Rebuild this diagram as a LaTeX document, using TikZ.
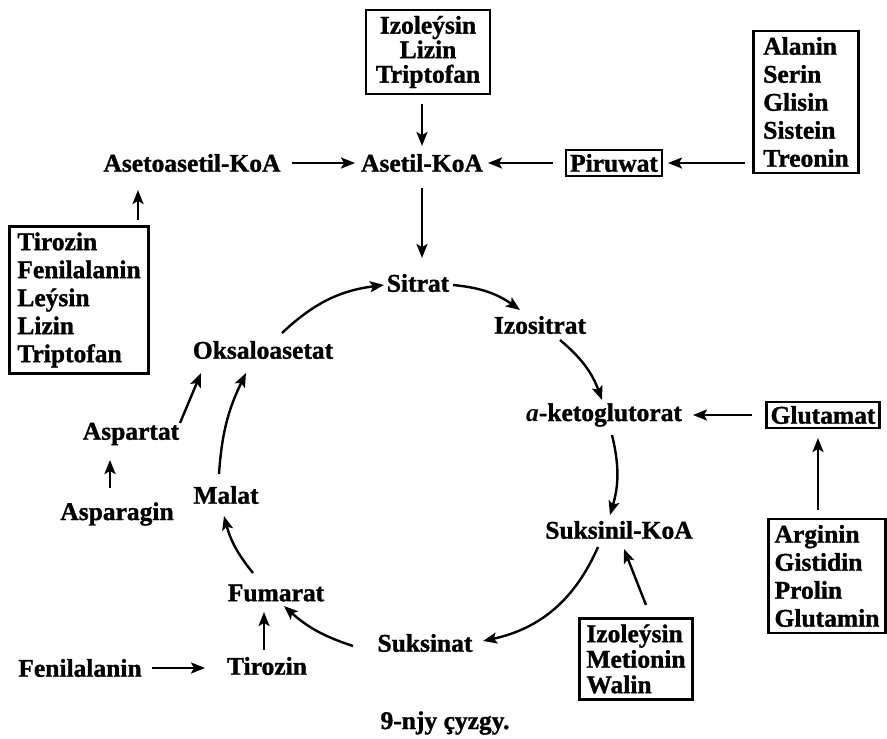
\documentclass[tikz,border=0pt]{standalone}
\usepackage{fontspec}
\setmainfont{Liberation Serif}[BoldFeatures={FakeBold=1.2}]
\usetikzlibrary{arrows.meta}
\begin{document}
\begin{tikzpicture}[x=1pt,y=-1pt,
  lbl/.style={font=\fontsize{25.5}{28}\selectfont\bfseries, inner sep=4pt},
  box/.style={lbl, draw, line width=2.6pt, inner xsep=10pt, inner ysep=6pt},
  arr/.style={line width=2.4pt, -{Stealth[length=14pt,width=11pt,inset=3pt]}}]
\useasboundingbox (0,0) rectangle (887,739);
% nodes
\node[box, align=center, font=\fontsize{25.5}{24.5}\selectfont\bfseries] (b1) at (428,52) {Izoleýsin\\Lizin\\Triptofan};
\node[lbl] (acoa) at (422,163) {Asetil-KoA};
\node[lbl] (aacoa) at (192,163) {Asetoasetil-KoA};
\node[box, inner xsep=4pt, inner ysep=4pt] (pir) at (614,163) {Piruwat};
\node[box, align=left] (ala) at (806,102) {Alanin\\Serin\\Glisin\\Sistein\\Treonin};
\node[box, align=left, inner xsep=8pt] (tir1) at (79,300) {Tirozin\\Fenilalanin\\Leýsin\\Lizin\\Triptofan};
\node[lbl] (sit) at (418,283) {Sitrat};
\node[lbl] (izo) at (540,325) {Izositrat};
\node[lbl] (akg) at (604,415) {\textit{a}-ketoglutorat};
\node[box, inner xsep=4pt, inner ysep=4pt] (glu) at (823,415) {Glutamat};
\node[box, align=left, inner xsep=6pt] (arg) at (827,576) {Arginin\\Gistidin\\Prolin\\Glutamin};
\node[lbl] (sco) at (619,530) {Suksinil-KoA};
\node[box, align=left, inner xsep=7pt, font=\fontsize{25.5}{25.5}\selectfont\bfseries] (b2) at (636,659) {Izoleýsin\\Metionin\\Walin};
\node[lbl] (suk) at (425,643) {Suksinat};
\node[lbl] (fum) at (276,593) {Fumarat};
\node[lbl] (tir) at (267,666) {Tirozin};
\node[lbl] (fen) at (80,668) {Fenilalanin};
\node[lbl] (mal) at (226,495) {Malat};
\node[lbl] (oks) at (263,350) {Oksaloasetat};
\node[lbl] (asp) at (131,434) {Aspartat};
\node[lbl] (asg) at (117,514) {Asparagin};
\node[lbl] (cap) at (445,723) {9-njy çyzgy.};
% cycle
\draw[arr] ([shift={(19,-17)}]oks.center) to[bend left=18] ([shift={(-34,2)}]sit.center);
\draw[arr] ([shift={(35,2)}]sit.center) to[bend left=15] ([shift={(-20,-15)}]izo.center);
\draw[arr] ([shift={(20,15)}]izo.center) to[bend left=15] ([shift={(-2,-15)}]akg.center);
\draw[arr] ([shift={(8,20)}]akg.center) to[bend left=15] ([shift={(-9,-15)}]sco.center);
\draw[arr] ([shift={(-21,17)}]sco.center) to[bend left=27] ([shift={(58,-2)}]suk.center);
\draw[arr] ([shift={(-72,3)}]suk.center) to[bend left=12] ([shift={(8,13)}]fum.center);
\draw[arr] ([shift={(-23,-20)}]fum.center) to[bend left=12] ([shift={(-2,21)}]mal.center);
\draw[arr] ([shift={(-7,-21)}]mal.center) to[bend left=11] ([shift={(-17,23)}]oks.center);
% straight
\draw[arr] ([shift={(-6,52)}]b1.center) -- ([shift={(0,-17)}]acoa.center);
\draw[arr] ([shift={(100,0)}]aacoa.center) -- ([shift={(-67,0)}]acoa.center);
\draw[arr] ([shift={(-61,0)}]pir.center) -- ([shift={(66,0)}]acoa.center);
\draw[arr] ([shift={(-61,61)}]ala.center) -- ([shift={(54,0)}]pir.center);
\draw[arr] ([shift={(59,-80)}]tir1.center) -- ([shift={(-54,27)}]aacoa.center);
\draw[arr] ([shift={(0,25)}]acoa.center) -- ([shift={(4,-25)}]sit.center);
\draw[arr] ([shift={(-71,0)}]glu.center) -- ([shift={(89,0)}]akg.center);
\draw[arr] ([shift={(-9,-66)}]arg.center) -- ([shift={(-5,23)}]glu.center);
\draw[arr] ([shift={(10,-54)}]b2.center) -- ([shift={(5,19)}]sco.center);
\draw[arr] ([shift={(72,0)}]fen.center) -- ([shift={(-62,2)}]tir.center);
\draw[arr] ([shift={(-3,-16)}]tir.center) -- ([shift={(-12,19)}]fum.center);
\draw[arr] ([shift={(-7,-26)}]asg.center) -- ([shift={(-21,26)}]asp.center);
\draw[arr] ([shift={(49,-11)}]asp.center) -- ([shift={(-62,23)}]oks.center);
\end{tikzpicture}
\end{document}
